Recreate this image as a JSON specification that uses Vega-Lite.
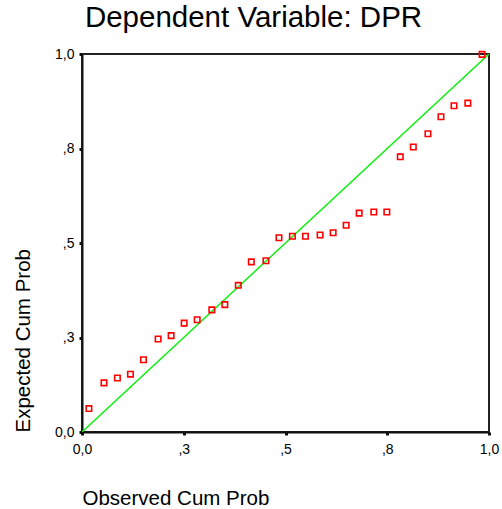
{
  "$schema": "https://vega.github.io/schema/vega-lite/v6.json",
  "autosize": "none",
  "width": 407,
  "height": 378,
  "padding": {"left": 82, "top": 54, "right": 13, "bottom": 77},
  "background": "white",
  "config": {
    "view": {"stroke": "#222", "strokeWidth": 2},
    "font": "Liberation Sans"
  },
  "title": {
    "text": "Dependent Variable: DPR",
    "font": "Liberation Sans",
    "fontSize": 29.5,
    "fontWeight": "normal",
    "color": "black",
    "anchor": "middle",
    "frame": "group",
    "dx": -32,
    "dy": 9,
    "baseline": "alphabetic",
    "offset": 0
  },
  "datasets": {
    "pts": [
      {"obs": 0.017, "exp": 0.062},
      {"obs": 0.054, "exp": 0.130},
      {"obs": 0.087, "exp": 0.143},
      {"obs": 0.119, "exp": 0.153},
      {"obs": 0.151, "exp": 0.191},
      {"obs": 0.187, "exp": 0.246},
      {"obs": 0.219, "exp": 0.255},
      {"obs": 0.251, "exp": 0.288},
      {"obs": 0.283, "exp": 0.297},
      {"obs": 0.319, "exp": 0.323},
      {"obs": 0.351, "exp": 0.337},
      {"obs": 0.384, "exp": 0.388},
      {"obs": 0.416, "exp": 0.450},
      {"obs": 0.452, "exp": 0.453},
      {"obs": 0.484, "exp": 0.514},
      {"obs": 0.517, "exp": 0.518},
      {"obs": 0.549, "exp": 0.518},
      {"obs": 0.585, "exp": 0.521},
      {"obs": 0.617, "exp": 0.527},
      {"obs": 0.649, "exp": 0.547},
      {"obs": 0.681, "exp": 0.579},
      {"obs": 0.717, "exp": 0.582},
      {"obs": 0.749, "exp": 0.582},
      {"obs": 0.782, "exp": 0.728},
      {"obs": 0.814, "exp": 0.754},
      {"obs": 0.850, "exp": 0.789},
      {"obs": 0.882, "exp": 0.834},
      {"obs": 0.914, "exp": 0.863},
      {"obs": 0.948, "exp": 0.870},
      {"obs": 0.983, "exp": 0.999}
    ],
    "diag": [
      {"obs": 0, "exp": 0},
      {"obs": 1, "exp": 1}
    ]
  },
  "layer": [
    {
      "data": {"name": "diag"},
      "mark": {"type": "line", "color": "#11ee11", "strokeWidth": 1.5, "clip": true},
      "encoding": {
        "x": {"field": "obs", "type": "quantitative", "scale": {"domain": [0, 1], "nice": false, "zero": false}},
        "y": {"field": "exp", "type": "quantitative", "scale": {"domain": [0, 1], "nice": false, "zero": false}}
      }
    },
    {
      "data": {"name": "pts"},
      "mark": {"type": "point", "shape": "square", "size": 30, "filled": false, "color": "#ff0000", "strokeWidth": 1.6, "opacity": 1},
      "encoding": {
        "x": {
          "field": "obs", "type": "quantitative",
          "scale": {"domain": [0, 1], "nice": false, "zero": false},
          "axis": {
            "title": "Observed Cum Prob",
            "values": [0, 0.25, 0.5, 0.75, 1],
            "labelExpr": "datum.value == 0 ? '0,0' : datum.value == 1 ? '1,0' : datum.value == 0.25 ? ',3' : datum.value == 0.5 ? ',5' : ',8'",
            "grid": false,
            "domainColor": "#111",
            "domainWidth": 2,
            "tickColor": "#111",
            "tickWidth": 3,
            "tickSize": 3,
            "labelFont": "Liberation Sans",
            "labelFontSize": 14,
            "labelColor": "black",
            "labelPadding": 7,
            "labelFlush": false,
            "labelOverlap": false,
            "titleFont": "Liberation Sans",
            "titleFontSize": 20.5,
            "titleFontWeight": "normal",
            "titleColor": "black",
            "titleAnchor": "start",
            "titleAlign": "left",
            "titleBaseline": "alphabetic",
            "titleX": 0,
            "titleY": 72
          }
        },
        "y": {
          "field": "exp", "type": "quantitative",
          "scale": {"domain": [0, 1], "nice": false, "zero": false},
          "axis": {
            "title": "Expected Cum Prob",
            "values": [0, 0.25, 0.5, 0.75, 1],
            "labelExpr": "datum.value == 0 ? '0,0' : datum.value == 1 ? '1,0' : datum.value == 0.25 ? ',3' : datum.value == 0.5 ? ',5' : ',8'",
            "grid": false,
            "domainColor": "#111",
            "domainWidth": 2,
            "tickColor": "#111",
            "tickWidth": 3,
            "tickSize": 3,
            "labelFont": "Liberation Sans",
            "labelFontSize": 14,
            "labelColor": "black",
            "labelPadding": 5,
            "labelFlush": false,
            "labelOverlap": false,
            "titleFont": "Liberation Sans",
            "titleFontSize": 20.5,
            "titleFontWeight": "normal",
            "titleColor": "black",
            "titleAngle": -90,
            "titleAlign": "left",
            "titleBaseline": "middle",
            "titleX": -59,
            "titleY": 378
          }
        }
      }
    }
  ]
}
